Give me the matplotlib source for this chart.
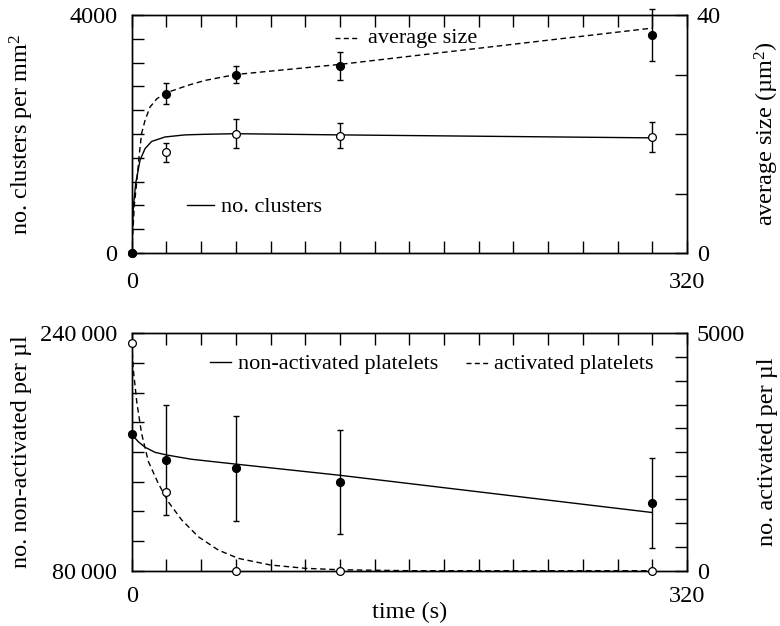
import matplotlib
matplotlib.use('Agg')
import matplotlib.pyplot as plt
from matplotlib.lines import Line2D
import numpy as np

plt.rcParams['font.family'] = ['Liberation Serif', 'DejaVu Serif']
plt.rcParams['mathtext.fontset'] = 'custom'
plt.rcParams['mathtext.rm'] = 'Liberation Serif'
plt.rcParams['mathtext.it'] = 'Liberation Serif:italic'

# ---------------- data ----------------
time_pts = [0, 20, 60, 120, 300]

# top panel: measured points
cluster_count = [0, 1690, 2005, 1971, 1955]
cluster_count_err = [0, 165, 245, 210, 255]
avg_size = [0, 26.8, 30.0, 31.4, 36.6]
avg_size_err = [0, 1.8, 1.4, 2.3, 4.4]

# top panel: model curves
count_curve_t = [0, 0.4, 0.95, 2.3, 4.8, 7.7, 11.5, 19.2, 30.7, 42.2, 60, 120, 300]
count_curve = [0, 380, 770, 1170, 1560, 1755, 1875, 1950, 1985, 1995, 2005, 1985, 1935]
size_curve_t = [0, 0.5, 1.5, 2.9, 4.2, 5.7, 7.7, 10.5, 14.4, 19.7, 32.6, 42.2, 60, 120, 300]
size_curve = [0, 2.5, 8.0, 11.9, 16.1, 20.1, 22.3, 24.5, 25.9, 26.9, 28.2, 29.0, 30.0, 31.7, 37.8]

# bottom panel: measured points
nonact = [172000, 154600, 149000, 140000, 125500]
nonact_err = [0, 37000, 35200, 35100, 30150]
activated = [4800, 1665, 0, 0, 0]

# bottom panel: model curves
nonact_curve_t = [0, 3.8, 7.7, 13.4, 20.1, 34.5, 59.5, 120, 300]
nonact_curve = [172000, 166900, 163200, 159800, 158000, 155100, 151900, 144300, 119200]
act_curve_t = [0, 0.95, 2.9, 5.7, 9.6, 15.3, 21.1, 28.8, 38.4, 49.9, 61.4, 80, 100, 120, 160, 300]
act_curve = [4790, 4230, 3560, 2890, 2300, 1840, 1450, 1070, 715, 435, 260, 120, 50, 20, 0, 0]

# axis ticks / labels
x_ticks = list(range(0, 321, 20))
x_tick_labels = {0: '0', 320: '320'}
top_left_ticks = list(range(0, 4001, 400))
top_left_labels = {0: '0', 4000: '4000'}
top_right_ticks = [0, 10, 20, 30, 40]
top_right_labels = {0: '0', 40: '40'}
bot_left_ticks = list(range(80000, 240001, 20000))
bot_left_labels = {80000: '80\u2009000', 240000: '240\u2009000'}
bot_right_ticks = list(range(0, 5001, 500))
bot_right_labels = {0: '0', 5000: '5000'}

# ---------------- layout ----------------
W, H = 780, 626
fig = plt.figure(figsize=(W / 100, H / 100), dpi=100)


def fx(px):
    return px / W


def fy(py):
    return 1 - py / H


AX_L, AX_R = 131.7, 687.0
ax_top = fig.add_axes([fx(AX_L), fy(253.0), fx(AX_R) - fx(AX_L), fy(15.0) - fy(253.0)])
ax_bot = fig.add_axes([fx(AX_L), fy(570.7), fx(AX_R) - fx(AX_L), fy(333.3) - fy(570.7)])

FS = 17.5
LFS = 16
LW = 1.0
DASH = (0, (4, 2.6))
TICKLEN = 8.6


def labels_for(ticks, d):
    return [d.get(t, '') for t in ticks]


def style_axes(ax, axr, lticks, llab, rticks, rlab, xpad):
    ax.set_xlim(0, 320)
    ax.set_xticks(x_ticks)
    ax.set_xticklabels(labels_for(x_ticks, x_tick_labels))
    ax.set_yticks(lticks)
    ax.set_yticklabels(labels_for(lticks, llab))
    axr.set_yticks(rticks)
    axr.set_yticklabels(labels_for(rticks, rlab))
    ax.tick_params(axis='x', which='both', direction='in', top=True, bottom=True,
                   length=TICKLEN, width=1.0, labelsize=FS, pad=xpad)
    ax.tick_params(axis='y', direction='in', left=True, right=False,
                   length=TICKLEN, width=1.0, labelsize=FS, pad=10.4)
    axr.tick_params(axis='y', direction='in', left=False, right=True,
                    length=TICKLEN, width=1.0, labelsize=FS, pad=7)
    for a in (ax, axr):
        for s in a.spines.values():
            s.set_linewidth(1.0)


def errbars(ax, x, y, e, **kw):
    xs = [xi for xi, ei in zip(x, e) if ei > 0]
    ys = [yi for yi, ei in zip(y, e) if ei > 0]
    es = [ei for ei in e if ei > 0]
    c = ax.errorbar(xs, ys, yerr=es, fmt='none', ecolor='black', elinewidth=1.0,
                    capsize=2.4, capthick=1.0, **kw)
    for art in c.lines[1]:
        art.set_clip_on(False)
    for art in c.lines[2]:
        art.set_clip_on(False)


# ---------------- top panel ----------------
ax2 = ax_top.twinx()
ax_top.set_ylim(0, 4000)
ax2.set_ylim(0, 40)
style_axes(ax_top, ax2, top_left_ticks, top_left_labels, top_right_ticks, top_right_labels, 13.5)

ax_top.plot(count_curve_t, count_curve, color='black', lw=LW)
errbars(ax_top, time_pts, cluster_count, cluster_count_err)
ax_top.plot(time_pts, cluster_count, 'o', mfc='white', mec='black', mew=0.9, ms=5.6,
            clip_on=False, zorder=3)

ax2.plot(size_curve_t, size_curve, color='black', lw=LW, linestyle=DASH)
errbars(ax2, time_pts, avg_size, avg_size_err)
ax2.plot(time_pts, avg_size, 'o', mfc='black', mec='black', ms=5.6, clip_on=False, zorder=3)

# ---------------- bottom panel ----------------
ax4 = ax_bot.twinx()
ax_bot.set_ylim(80000, 240000)
ax4.set_ylim(0, 5000)
style_axes(ax_bot, ax4, bot_left_ticks, bot_left_labels, bot_right_ticks, bot_right_labels, 11)

ax_bot.plot(nonact_curve_t, nonact_curve, color='black', lw=LW)
errbars(ax_bot, time_pts, nonact, nonact_err)
ax_bot.plot(time_pts, nonact, 'o', mfc='black', mec='black', ms=5.6, clip_on=False, zorder=3)

ax4.plot(act_curve_t, act_curve, color='black', lw=LW, linestyle=DASH)
ax4.plot(time_pts, activated, 'o', mfc='white', mec='black', mew=0.9, ms=5.6,
         clip_on=False, zorder=3)

# ---------------- legends (drawn by hand) ----------------
def legend_item(x0, x1, yline, xtext, ybase, text, ls):
    fig.add_artist(Line2D([fx(x0), fx(x1)], [fy(yline), fy(yline)], color='black',
                          lw=LW, linestyle=ls, transform=fig.transFigure))
    fig.text(fx(xtext), fy(ybase), text, fontsize=LFS, ha='left', va='baseline')


legend_item(335, 359, 38.3, 368, 43.5, 'average size', (0, (3.6, 2.4)))
legend_item(187, 214, 205, 221, 211.5, 'no. clusters', '-')
legend_item(210, 231, 361.7, 238, 368.5, 'non-activated platelets', '-')
legend_item(466, 490, 363.3, 494, 368.5, 'activated platelets', (0, (3.6, 2.4)))

# ---------------- axis labels ----------------
fig.text(fx(22), fy(134), 'no. clusters per mm$^{\\mathrm{2}}$', rotation=90,
         ha='center', va='center', fontsize=FS)
fig.text(fx(767), fy(134), 'average size (\u00b5m$^{\\mathrm{2}}$)', rotation=90,
         ha='center', va='center', fontsize=FS)
fig.text(fx(22), fy(452), 'no. non-activated per \u00b5l', rotation=90,
         ha='center', va='center', fontsize=FS)
fig.text(fx(768), fy(452), 'no. activated per \u00b5l', rotation=90,
         ha='center', va='center', fontsize=FS)
fig.text(fx(409.4), fy(612), 'time (s)', ha='center', va='center', fontsize=FS)

fig.savefig('out.png', dpi=100)
